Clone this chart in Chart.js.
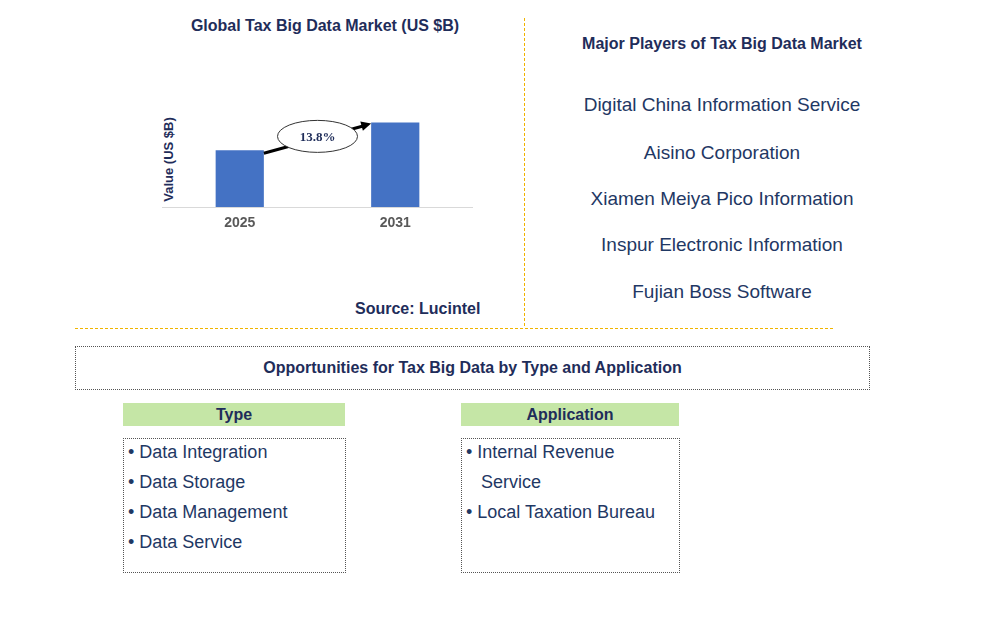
<!DOCTYPE html>
<html><head><meta charset="utf-8">
<script src="https://cdn.jsdelivr.net/npm/chart.js"></script>
<style>
body{margin:0;width:998px;height:632px;background:#fff;font-family:"Liberation Sans",Arial,sans-serif;position:relative;overflow:hidden}
.a{position:absolute}
.t{color:#1f2d5a;font-weight:bold;font-size:16px}
.p{color:#1f3864;font-size:19px;width:400px;text-align:center;left:522px}
.li{color:#1f3864;font-size:18px;line-height:30px}
</style></head><body>
<div class="a t" style="left:150px;top:17px;width:350px;text-align:center">Global Tax Big Data Market (US $B)</div>
<div class="a" style="width:150px;text-align:center;transform:rotate(-90deg);color:#1f2d5a;font-weight:bold;font-size:13px;transform-origin:center;left:93px;top:152px">Value (US $B)</div>
<div class="a" style="left:150px;top:90px;width:340px;height:150px"><canvas id="c" width="340" height="150"></canvas></div>
<div class="a t" style="left:355px;top:300px">Source: Lucintel</div>
<div class="a" style="left:524px;top:18px;height:308px;border-left:1px dashed #f0b400"></div>
<div class="a" style="left:75px;top:328px;width:758px;border-top:1px dashed #f0b400"></div>
<div class="a t" style="left:522px;top:35px;width:400px;text-align:center">Major Players of Tax Big Data Market</div>
<div class="a p" style="top:94px">Digital China Information Service</div>
<div class="a p" style="top:142px">Aisino Corporation</div>
<div class="a p" style="top:188px">Xiamen Meiya Pico Information</div>
<div class="a p" style="top:234px">Inspur Electronic Information</div>
<div class="a p" style="top:281px">Fujian Boss Software</div>
<div class="a t" style="left:75px;top:346px;width:793px;height:42px;border:1px dotted #555;line-height:42px;text-align:center">Opportunities for Tax Big Data by Type and Application</div>
<div class="a t" style="left:123px;top:403px;width:222px;height:23px;background:#c5e6a6;line-height:23px;text-align:center;font-size:16px">Type</div>
<div class="a t" style="left:461px;top:403px;width:218px;height:23px;background:#c5e6a6;line-height:23px;text-align:center;font-size:16px">Application</div>
<div class="a li" style="left:123px;top:438px;width:217px;height:125px;border:1px dotted #555;padding:0 0 8px 4px">
<div style="margin-top:-2px">• Data Integration</div><div>• Data Storage</div><div>• Data Management</div><div>• Data Service</div></div>
<div class="a li" style="left:461px;top:438px;width:213px;height:125px;border:1px dotted #555;padding:0 0 8px 4px">
<div style="margin-top:-2px">• Internal Revenue<br>&nbsp;&nbsp;&nbsp;Service</div><div>• Local Taxation Bureau</div></div>
<script>
const categories=["2025","2031"];
const values=[53,79];
const cagrLabel="13.8%";
const deco={id:"deco",afterDatasetsDraw(ch){
 const c=ch.ctx,m=ch.getDatasetMeta(0).data;
 const b0=m[0],b1=m[1];
 const x0=b0.x+b0.width/2,y0=b0.y+3,x1=b1.x-b1.width/2,y1=b1.y+1;
 c.save();c.strokeStyle="#000";c.lineWidth=3;
 c.beginPath();c.moveTo(x0,y0);c.lineTo(x1-8,y1+2.5);c.stroke();
 const ang=Math.atan2(y1-y0,x1-x0);
 c.fillStyle="#000";c.beginPath();c.moveTo(x1,y1);
 c.lineTo(x1-11*Math.cos(ang-0.45),y1-11*Math.sin(ang-0.45));
 c.lineTo(x1-11*Math.cos(ang+0.45),y1-11*Math.sin(ang+0.45));c.fill();
 const cx=(x0+x1)/2,cy=(y0+y1)/2-2;
 c.beginPath();c.ellipse(cx,cy,40,16,0,0,2*Math.PI);c.fillStyle="#fff";c.fill();
 c.lineWidth=1;c.strokeStyle="#333";c.stroke();
 c.fillStyle="#1f2d5a";c.font="bold 13px 'Liberation Serif',serif";c.textAlign="center";c.textBaseline="middle";
 c.fillText(cagrLabel,cx,cy+1);
 c.font="bold 14px 'Liberation Sans',Arial";c.fillStyle="#595959";c.textBaseline="top";
 m.forEach((b,i)=>c.fillText(categories[i],b.x,ch.chartArea.bottom+9));
 c.strokeStyle="#d9d9d9";c.lineWidth=1;c.beginPath();c.moveTo(ch.chartArea.left,ch.chartArea.bottom+0.5);c.lineTo(ch.chartArea.right,ch.chartArea.bottom+0.5);c.stroke();
 c.restore();}};
new Chart(document.getElementById("c"),{type:"bar",
 data:{labels:categories,datasets:[{data:values,backgroundColor:"#4472c4",barPercentage:0.31,categoryPercentage:1}]},
 options:{responsive:false,animation:false,layout:{padding:{left:12,right:17,top:10,bottom:33}},
 plugins:{legend:{display:false},tooltip:{enabled:false}},
 scales:{x:{display:false},y:{display:false,min:0,max:100}}},plugins:[deco]});
</script>
</body></html>
